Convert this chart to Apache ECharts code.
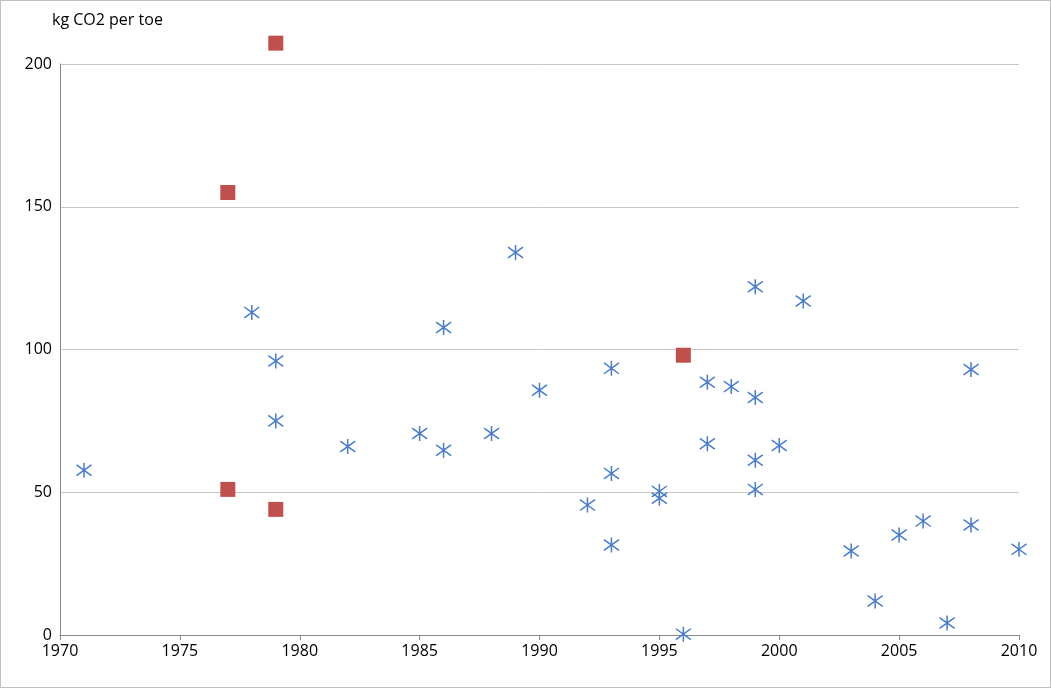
<!DOCTYPE html>
<html><head><meta charset="utf-8">
<script src="https://cdn.jsdelivr.net/npm/echarts@6/dist/echarts.min.js"></script>
<style>html,body{margin:0;padding:0;background:#fff}#c{width:1049px;height:686px;border:1px solid #bfbfbf}</style>
</head><body><div id="c"></div>
<script>
var xTicks = [1970, 1975, 1980, 1985, 1990, 1995, 2000, 2005, 2010];
var yTicks = [0, 50, 100, 150, 200];
var blueYears = [1971,1978,1979,1979,1982,1985,1986,1986,1988,1989,1990,1992,1993,1993,1993,1995,1995,1996,1997,1997,1998,1999,1999,1999,1999,2000,2001,2003,2004,2005,2006,2007,2008,2008,2010];
var blueValues = [57.7,113,96,75,66,70.6,107.7,64.7,70.6,134,85.7,45.5,93.4,56.6,31.5,50.3,47.9,0.3,88.5,67,87,122,83.2,61.2,51,66.4,117,29.4,11.9,35,39.9,4.2,93,38.5,30];
var redYears = [1977,1977,1979,1979,1996];
var redValues = [155,51,207.3,44,98];

var chart = echarts.init(document.getElementById('c'));
var star = 'path://M0,-1L0,1M-0.72,-0.72L0.72,0.72M-0.72,0.72L0.72,-0.72';
chart.setOption({
  animation: false,
  textStyle: {fontFamily: 'Open Sans'},
  title: {text: 'kg CO2 per toe', left: 46, top: 6, textStyle: {fontSize: 16, fontWeight: 'normal', color: '#000'}},
  grid: {left: 59, right: 31, top: 63, bottom: 52},
  xAxis: {
    type: 'value', min: xTicks[0], max: xTicks[xTicks.length - 1], interval: 5,
    axisLine: {lineStyle: {color: '#888'}}, axisTick: {show: true, lineStyle: {color: '#888'}},
    splitLine: {show: false},
    axisLabel: {color: '#000', fontSize: 16, formatter: function (v) { return String(v); }}
  },
  yAxis: {
    type: 'value', min: yTicks[0], max: yTicks[yTicks.length - 1], interval: 50,
    axisLine: {show: true, lineStyle: {color: '#888'}}, axisTick: {show: false},
    splitLine: {lineStyle: {color: '#c8c8c8'}},
    axisLabel: {color: '#000', fontSize: 16}
  },
  series: [
    {type: 'scatter', clip: false, symbol: star, symbolSize: 15,
     itemStyle: {color: 'none', borderColor: '#4a7cc7', borderWidth: 1.5, opacity: 1},
     data: blueYears.map(function (x, i) { return [x, blueValues[i]]; })},
    {type: 'scatter', clip: false, symbol: 'rect', symbolSize: 15,
     itemStyle: {color: '#c0504d', opacity: 1},
     data: redYears.map(function (x, i) { return [x, redValues[i]]; })}
  ]
});
</script></body></html>
